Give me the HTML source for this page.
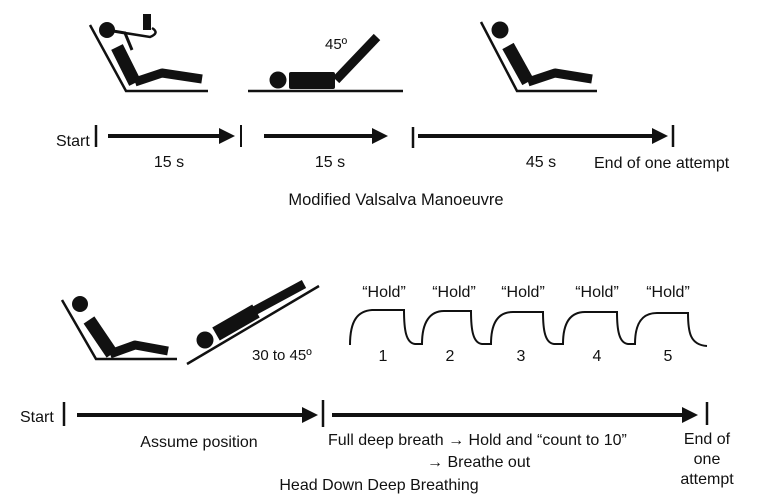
<!DOCTYPE html>
<html><head><meta charset="utf-8"><style>
body{margin:0;background:#fff}
svg{display:block}
text{font-family:"Liberation Sans",sans-serif;font-size:16px;fill:#111}
</style></head><body>
<svg width="760" height="497" viewBox="0 0 760 497" xmlns="http://www.w3.org/2000/svg">
<defs><marker id="ah" markerWidth="4" markerHeight="4" refX="2" refY="2" orient="auto" markerUnits="strokeWidth"><path d="M0,0 L4,2 L0,4 z" fill="#111"/></marker></defs>
<g stroke="#111" fill="none" stroke-linecap="butt">
<!-- top fig1 -->
<polyline points="90,25 126,91 208,91" stroke-width="2.5"/>
<circle cx="107" cy="30" r="8" fill="#111" stroke="none"/>
<line x1="117" y1="47" x2="135" y2="83" stroke-width="13"/>
<polyline points="135,82 162,73 202,79" stroke-width="9" stroke-linejoin="round"/>
<path d="M113,31 L125,33 L132,50" stroke-width="3"/>
<path d="M125,33 L150,37 Q160,33 152,28" stroke-width="2.5"/>
<rect x="143" y="14" width="8" height="16" fill="#111" stroke="none"/>
<!-- top fig2 -->
<line x1="248" y1="91" x2="403" y2="91" stroke-width="2.5"/>
<circle cx="278" cy="80" r="8.5" fill="#111" stroke="none"/>
<rect x="289" y="72" width="46" height="17" rx="2" fill="#111" stroke="none"/>
<line x1="336" y1="80" x2="377" y2="37" stroke-width="9"/>
<!-- top fig3 -->
<polyline points="481,22 517,91 597,91" stroke-width="2.5"/>
<circle cx="500" cy="30" r="8.5" fill="#111" stroke="none"/>
<line x1="508" y1="46" x2="528" y2="82" stroke-width="13"/>
<polyline points="528,82 555,73 592,79" stroke-width="9" stroke-linejoin="round"/>
<!-- top arrows -->
<line x1="96" y1="125" x2="96" y2="147" stroke-width="2.5"/>
<line x1="108" y1="136" x2="227" y2="136" stroke-width="4" marker-end="url(#ah)"/>
<line x1="241" y1="125" x2="241" y2="147" stroke-width="2"/>
<line x1="264" y1="136" x2="380" y2="136" stroke-width="4" marker-end="url(#ah)"/>
<line x1="413" y1="127" x2="413" y2="148" stroke-width="2.5"/>
<line x1="418" y1="136" x2="660" y2="136" stroke-width="4" marker-end="url(#ah)"/>
<line x1="673" y1="125" x2="673" y2="147" stroke-width="2.5"/>
<!-- bottom fig1 -->
<polyline points="62,300 96,359 177,359" stroke-width="2.5"/>
<circle cx="80" cy="304" r="8" fill="#111" stroke="none"/>
<line x1="89" y1="320" x2="112" y2="354" stroke-width="13"/>
<polyline points="110,354 135,345 168,351" stroke-width="9" stroke-linejoin="round"/>
<!-- bottom fig2 -->
<line x1="187" y1="364" x2="319" y2="286" stroke-width="2.5"/>
<circle cx="205" cy="340" r="8.5" fill="#111" stroke="none"/>
<line x1="216" y1="334" x2="256" y2="311" stroke-width="15"/>
<line x1="254" y1="311" x2="304" y2="284" stroke-width="9"/>
<!-- wave -->
<path d="M350,345 C350,320 358,311 372,310 L404,310 C404,330 406,343 415,344 L422,344 C422,322 430,311 444,311 L471,311 C471,330 473,343 482,344 L491,344 C491,322 499,312 513,312 L543,312 C543,330 545,343 554,344 L563,344 C563,322 571,312 585,312 L617,312 C617,330 619,343 628,344 L635,344 C635,322 643,313 657,313 L688,313 C688,332 690,345 707,346" stroke-width="2"/>
<!-- bottom arrows -->
<line x1="64" y1="402" x2="64" y2="426" stroke-width="2.5"/>
<line x1="77" y1="415" x2="310" y2="415" stroke-width="4" marker-end="url(#ah)"/>
<line x1="323" y1="400" x2="323" y2="427" stroke-width="2.5"/>
<line x1="332" y1="415" x2="690" y2="415" stroke-width="4" marker-end="url(#ah)"/>
<line x1="707" y1="402" x2="707" y2="425" stroke-width="2.5"/>
</g>
<text x="325" y="49" style="font-size:15px">45º</text>
<text x="56" y="146">Start</text>
<text x="169" y="167" text-anchor="middle">15 s</text>
<text x="330" y="167" text-anchor="middle">15 s</text>
<text x="541" y="167" text-anchor="middle">45 s</text>
<text x="594" y="168">End of one attempt</text>
<text x="396" y="205" text-anchor="middle" style="font-size:16.5px">Modified Valsalva Manoeuvre</text>
<text x="252" y="360" style="font-size:15px">30 to 45º</text>
<g text-anchor="middle" style="font-size:14.5px">
<text x="384" y="297">“Hold”</text><text x="454" y="297">“Hold”</text><text x="523" y="297">“Hold”</text><text x="597" y="297">“Hold”</text><text x="668" y="297">“Hold”</text>
<text x="383" y="361">1</text><text x="450" y="361">2</text><text x="521" y="361">3</text><text x="597" y="361">4</text><text x="668" y="361">5</text>
</g>
<text x="20" y="422">Start</text>
<text x="199" y="447" text-anchor="middle">Assume position</text>
<text x="328" y="445">Full deep breath → Hold and “count to 10”</text>
<text x="427" y="467">→ Breathe out</text>
<text x="379" y="490" text-anchor="middle">Head Down Deep Breathing</text>
<text x="707" y="444" text-anchor="middle">End of</text>
<text x="707" y="464" text-anchor="middle">one</text>
<text x="707" y="484" text-anchor="middle">attempt</text>
</svg>
</body></html>
